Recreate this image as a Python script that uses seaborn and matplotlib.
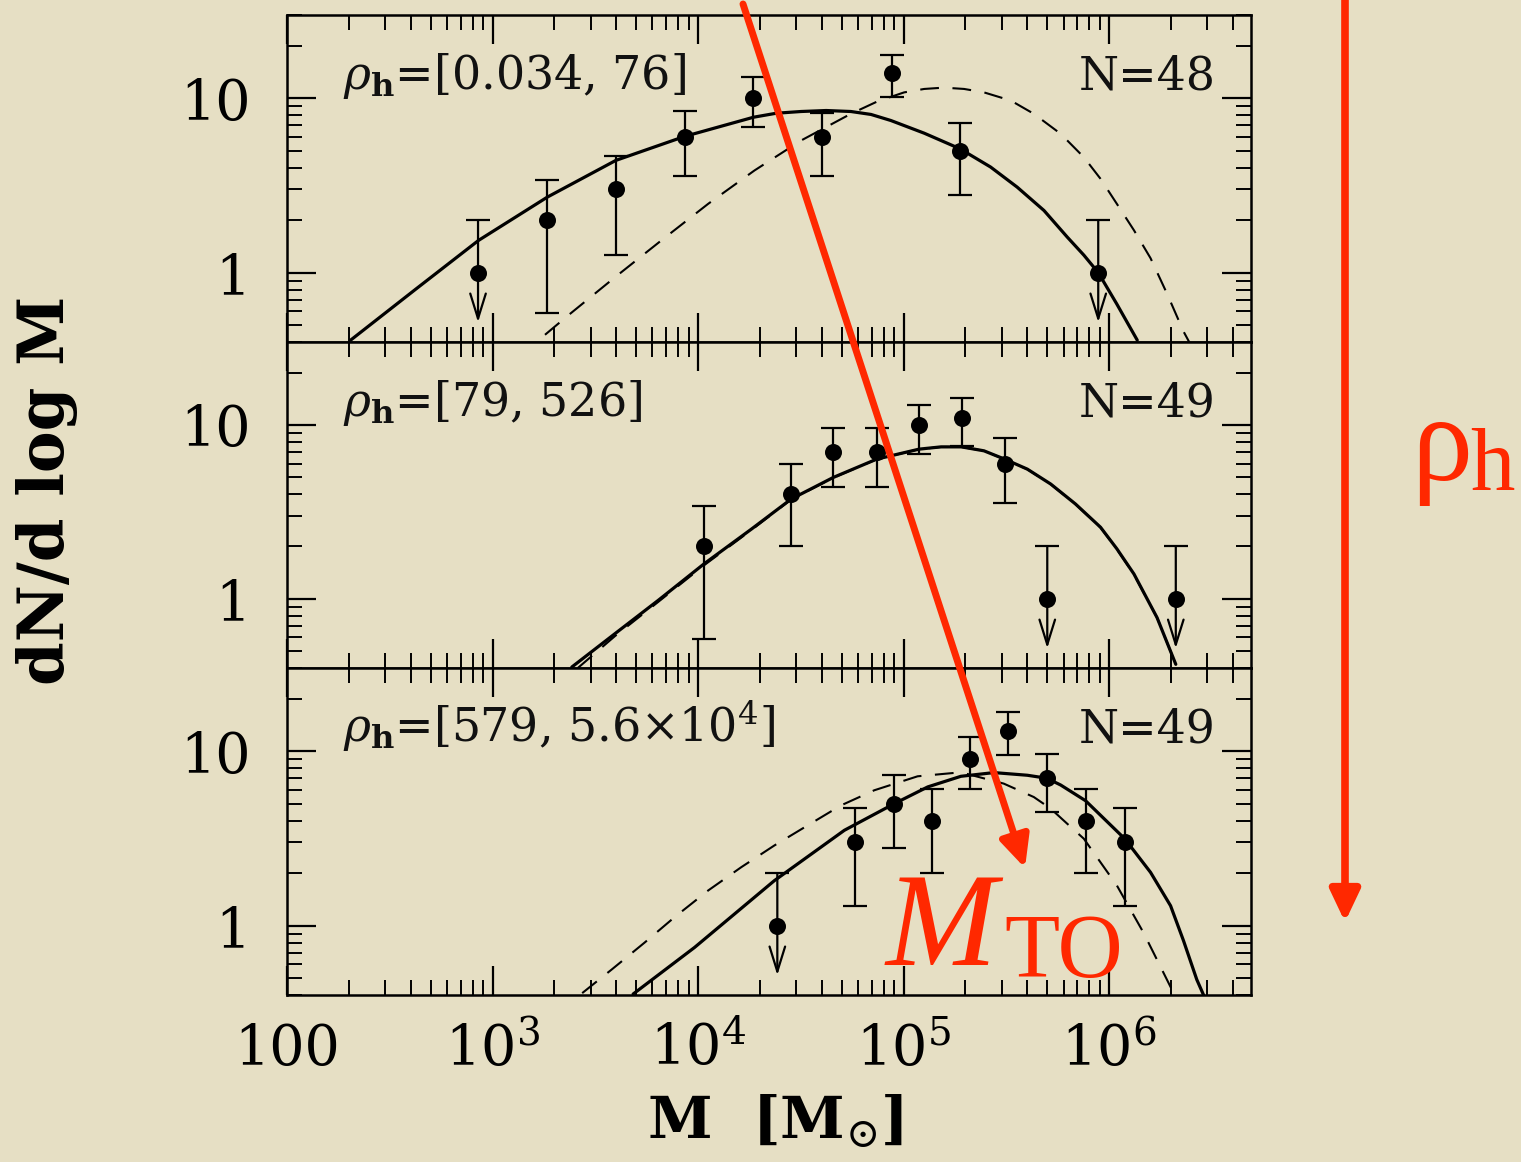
import numpy as np
import pandas as pd
import matplotlib
matplotlib.use("Agg")
import matplotlib.pyplot as plt
import seaborn as sns
from matplotlib.ticker import LogLocator, FixedLocator, NullFormatter
from matplotlib.patches import FancyArrowPatch

# ---------------- data ----------------
panel_labels = [r"$\rho_{\mathbf{h}}$=[0.034, 76]",
                r"$\rho_{\mathbf{h}}$=[79, 526]",
                r"$\rho_{\mathbf{h}}$=[579, 5.6$\times$10$^{4}$]"]
panel_counts = ["N=48", "N=49", "N=49"]

# panel 1 data
p1_m = [850, 1850, 3980, 8600, 18600, 40100, 87500, 188000, 885000]
p1_n = [1, 2, 3, 6, 10, 6, 14, 5, 1]
p1_lo = [np.nan, 0.59, 1.26, 3.57, 6.82, 3.57, 10.2, 2.77, np.nan]
p1_hi = [2.0, 3.41, 4.65, 8.5, 13.2, 8.2, 17.7, 7.2, 2.0]
p1_uplim = [True, False, False, False, False, False, False, False, True]

# panel 2 data
p2_m = [10700, 28400, 45500, 74000, 119000, 192000, 310000, 500000, 2110000]
p2_n = [2, 4, 7, 7, 10, 11, 6, 1, 1]
p2_lo = [0.59, 2.02, 4.37, 4.37, 6.79, 7.58, 3.55, np.nan, np.nan]
p2_hi = [3.43, 5.95, 9.57, 9.57, 13.1, 14.2, 8.46, 2.0, 2.0]
p2_uplim = [False, False, False, False, False, False, False, True, True]

# panel 3 data
p3_m = [24300, 58000, 89300, 137000, 210000, 323000, 497000, 768000, 1190000]
p3_n = [1, 3, 5, 4, 9, 13, 7, 4, 3]
p3_lo = [np.nan, 1.29, 2.78, 2.01, 6.05, 9.57, 4.48, 2.01, 1.29]
p3_hi = [2.0, 4.72, 7.28, 6.05, 12.1, 16.7, 9.7, 6.05, 4.72]
p3_uplim = [True, False, False, False, False, False, False, False, False]

# solid (fit) curves
p1_fit_m = [204, 421, 855, 1848, 3981, 8610, 18620, 24000, 31700, 42000, 55400, 69400,
            86700, 126000, 188000, 265000, 357000, 482000, 625000, 753000, 885000,
            1090000, 1370000]
p1_fit_y = [0.41, 0.80, 1.53, 2.71, 4.40, 6.04, 7.78, 8.2, 8.39, 8.5, 8.39, 8.07,
            7.45, 6.3, 5.13, 4.03, 3.09, 2.27, 1.60, 1.26, 1.0,
            0.66, 0.41]
p2_fit_m = [2430, 3940, 6400, 10700, 18200, 28400, 45500, 74000, 119000, 152000, 191000,
            246000, 310000, 400000, 520000, 686000, 908000, 1090000, 1320000, 1710000, 2110000]
p2_fit_y = [0.405, 0.63, 0.98, 1.59, 2.52, 3.75, 4.99, 6.36, 7.26, 7.48, 7.48,
            7.1, 6.36, 5.57, 4.57, 3.51, 2.58, 1.94, 1.39, 0.78, 0.42]
p3_fit_m = [4830, 9620, 23500, 51500, 90000, 131000, 190000, 275000, 400000, 497000,
            581000, 768000, 1190000, 1590000, 1990000, 2300000, 2670000, 2880000]
p3_fit_y = [0.405, 0.75, 1.81, 3.52, 5.0, 6.24, 7.18, 7.54, 7.28, 7.0,
            6.4, 5.2, 3.15, 2.02, 1.30, 0.82, 0.49, 0.40]

# dashed (model) curves
p1_mod_m = [1800, 2340, 3940, 6630, 11200, 18800, 31700, 55400, 74800, 100600, 126000,
            157000, 197000, 246000, 332000, 430000, 581000, 753000, 908000, 1090000,
            1320000, 1590000, 1910000, 2300000, 2480000]
p1_mod_y = [0.44, 0.57, 0.94, 1.53, 2.48, 3.85, 5.72, 8.14, 9.6, 10.8, 11.3,
            11.5, 11.3, 10.8, 9.7, 8.14, 6.25, 4.59, 3.45, 2.48,
            1.75, 1.21, 0.76, 0.46, 0.39]
p2_mod_m = [2600, 3940, 6400, 10700, 18200, 28400, 45500, 74000, 119000, 152000, 191000,
            246000, 310000, 400000, 520000, 686000, 908000, 1090000, 1320000, 1710000, 2110000]
p2_mod_y = [0.40, 0.61, 0.96, 1.56, 2.49, 3.73, 4.97, 6.35, 7.25, 7.47, 7.47,
            7.1, 6.35, 5.56, 4.56, 3.5, 2.57, 1.93, 1.38, 0.78, 0.42]
p3_mod_m = [2730, 3800, 5500, 7700, 11200, 16200, 23500, 34200, 49600, 72000, 117000,
            190000, 307000, 430000, 519000, 625000, 753000, 1090000, 1470000, 2060000]
p3_mod_y = [0.41, 0.56, 0.80, 1.12, 1.59, 2.16, 2.88, 3.76, 4.89, 5.97, 7.18,
            7.57, 6.52, 5.46, 4.69, 3.84, 3.15, 1.70, 0.91, 0.41]

x_ticks = [1e2, 1e3, 1e4, 1e5, 1e6]
x_ticklabels = ["100", r"10$^{3}$", r"10$^{4}$", r"10$^{5}$", r"10$^{6}$"]
y_ticks = [1, 10]
y_ticklabels = ["1", "10"]

# ---------------- style ----------------
BG = "#E6DFC4"
RED = "#FF2800"
sns.set_theme(style="ticks")
plt.rcParams["font.family"] = ["DejaVu Serif"]
plt.rcParams["mathtext.fontset"] = "dejavuserif"
plt.rcParams["text.color"] = "black"
plt.rcParams["axes.labelcolor"] = "black"
plt.rcParams["lines.solid_joinstyle"] = "round"

W, H = 1521, 1162
fig = plt.figure(figsize=(W / 100, H / 100), dpi=100, facecolor=BG)

L, R = 287 / W, 1251 / W
tops = [15, 342, 668]
bots = [342, 668, 995]

panels = [
    (p1_m, p1_n, p1_lo, p1_hi, p1_uplim, p1_fit_m, p1_fit_y, p1_mod_m, p1_mod_y),
    (p2_m, p2_n, p2_lo, p2_hi, p2_uplim, p2_fit_m, p2_fit_y, p2_mod_m, p2_mod_y),
    (p3_m, p3_n, p3_lo, p3_hi, p3_uplim, p3_fit_m, p3_fit_y, p3_mod_m, p3_mod_y),
]

axes = []
for i, (t, b) in enumerate(zip(tops, bots)):
    ax = fig.add_axes([L, 1 - b / H, R - L, (b - t) / H])
    ax.set_facecolor(BG)
    axes.append(ax)
    m, n, lo, hi, uplim, fm, fy, mm, my = panels[i]

    fit_df = pd.DataFrame({"M": fm, "dN": fy})
    mod_df = pd.DataFrame({"M": mm, "dN": my})
    sns.lineplot(data=mod_df, x="M", y="dN", color="black", linewidth=1.5,
                 estimator=None, sort=False, ax=ax)
    ax.lines[-1].set_dashes((9, 6.5))
    sns.lineplot(data=fit_df, x="M", y="dN", color="black", linewidth=2.3,
                 estimator=None, sort=False, ax=ax)

    m = np.array(m, float); n = np.array(n, float)
    lo = np.array(lo, float); hi = np.array(hi, float); uplim = np.array(uplim)
    det = ~uplim
    ax.errorbar(m[det], n[det], yerr=[n[det] - lo[det], hi[det] - n[det]],
                fmt="none", ecolor="black", elinewidth=1.6, capsize=8.5, capthick=1.6)
    for xm, yn, yh in zip(m[uplim], n[uplim], hi[uplim]):
        ax.annotate("", xy=(xm, yn * 10 ** -0.285), xytext=(xm, yh),
                    arrowprops=dict(arrowstyle="->,head_length=0.9,head_width=0.28",
                                    color="black", lw=1.6, shrinkA=0, shrinkB=0,
                                    mutation_scale=20))
        ax.plot([xm], [yh], marker="_", markersize=17, mew=1.6, color="black")
    pts = pd.DataFrame({"M": m, "dN": n})
    sns.scatterplot(data=pts, x="M", y="dN", color="black", s=150,
                    edgecolor="black", linewidth=0, zorder=5, ax=ax)

    ax.set_xscale("log"); ax.set_yscale("log")
    ax.set_xlim(100, 4.9e6); ax.set_ylim(0.4, 30)
    ax.xaxis.set_major_locator(FixedLocator(x_ticks))
    ax.xaxis.set_minor_locator(LogLocator(base=10, subs=np.arange(2, 10), numticks=30))
    ax.xaxis.set_minor_formatter(NullFormatter())
    ax.yaxis.set_major_locator(FixedLocator(y_ticks))
    ax.yaxis.set_minor_locator(LogLocator(base=10, subs=np.arange(2, 10), numticks=30))
    ax.yaxis.set_minor_formatter(NullFormatter())
    ax.set_yticks(y_ticks, y_ticklabels)
    ax.set_xticks(x_ticks, x_ticklabels)
    ax.tick_params(which="both", direction="in", top=True, right=True,
                   bottom=True, left=True, colors="black")
    ax.tick_params(which="major", length=21, width=1.6)
    ax.tick_params(which="minor", length=11, width=1.4)
    ax.tick_params(axis="y", which="major", labelsize=40, pad=26)
    ax.tick_params(axis="x", which="major", labelsize=40, pad=20,
                   labelbottom=(i == 2))
    for s in ax.spines.values():
        s.set_linewidth(1.8); s.set_color("black"); s.set_visible(True)
    ax.set_xlabel(""); ax.set_ylabel("")

    ax.text(0.058, 0.773, panel_labels[i], transform=ax.transAxes,
            fontsize=33, va="baseline", ha="left", color="#111111")
    ax.text(0.963, 0.773, panel_counts[i], transform=ax.transAxes,
            fontsize=33, va="baseline", ha="right", color="#111111")

# axis titles
yl = axes[1].set_ylabel("dN/d log M", fontsize=45, fontweight="bold", color="black")
axes[1].yaxis.set_label_coords((47 - 287) / 964, (668 - 490) / 326)
yl.set_va("center")
xl = axes[2].set_xlabel(r"M  [M$_{\odot}$]", fontsize=42, fontweight="bold", color="black")
axes[2].xaxis.set_label_coords((775 - 287) / 964, (995 - 1093) / 327)
xl.set_va("top")

# ---------------- red overlay annotations ----------------
def fpos(x, y):
    return (x / W, 1 - y / H)

fig.add_artist(FancyArrowPatch(fpos(743, 4), fpos(1025, 868),
                               arrowstyle="-|>,head_length=0.95,head_width=0.45",
                               mutation_scale=20, lw=5, color=RED,
                               shrinkA=0, shrinkB=0, transform=fig.transFigure,
                               zorder=20))
fig.add_artist(FancyArrowPatch(fpos(1345, 0), fpos(1345, 922),
                               arrowstyle="-|>,head_length=0.95,head_width=0.45",
                               mutation_scale=20, lw=5.5, color=RED,
                               shrinkA=0, shrinkB=0, transform=fig.transFigure,
                               zorder=20))
fig.text(*fpos(1411, 480), "\u03c1", fontsize=88, color=RED,
         family="Liberation Serif", ha="left", va="baseline", zorder=21)
fig.text(*fpos(1470, 490), "h", fontsize=64, color=RED,
         family="Liberation Serif", ha="left", va="baseline", zorder=21)
fig.text(*fpos(886, 965), "M", fontsize=96, color=RED, style="italic",
         family="Liberation Serif", ha="left", va="baseline", zorder=21)
fig.text(*fpos(1004, 977), "TO", fontsize=65, color=RED,
         family="Liberation Serif", ha="left", va="baseline", zorder=21)

fig.savefig("out.png", dpi=100, facecolor=BG)
